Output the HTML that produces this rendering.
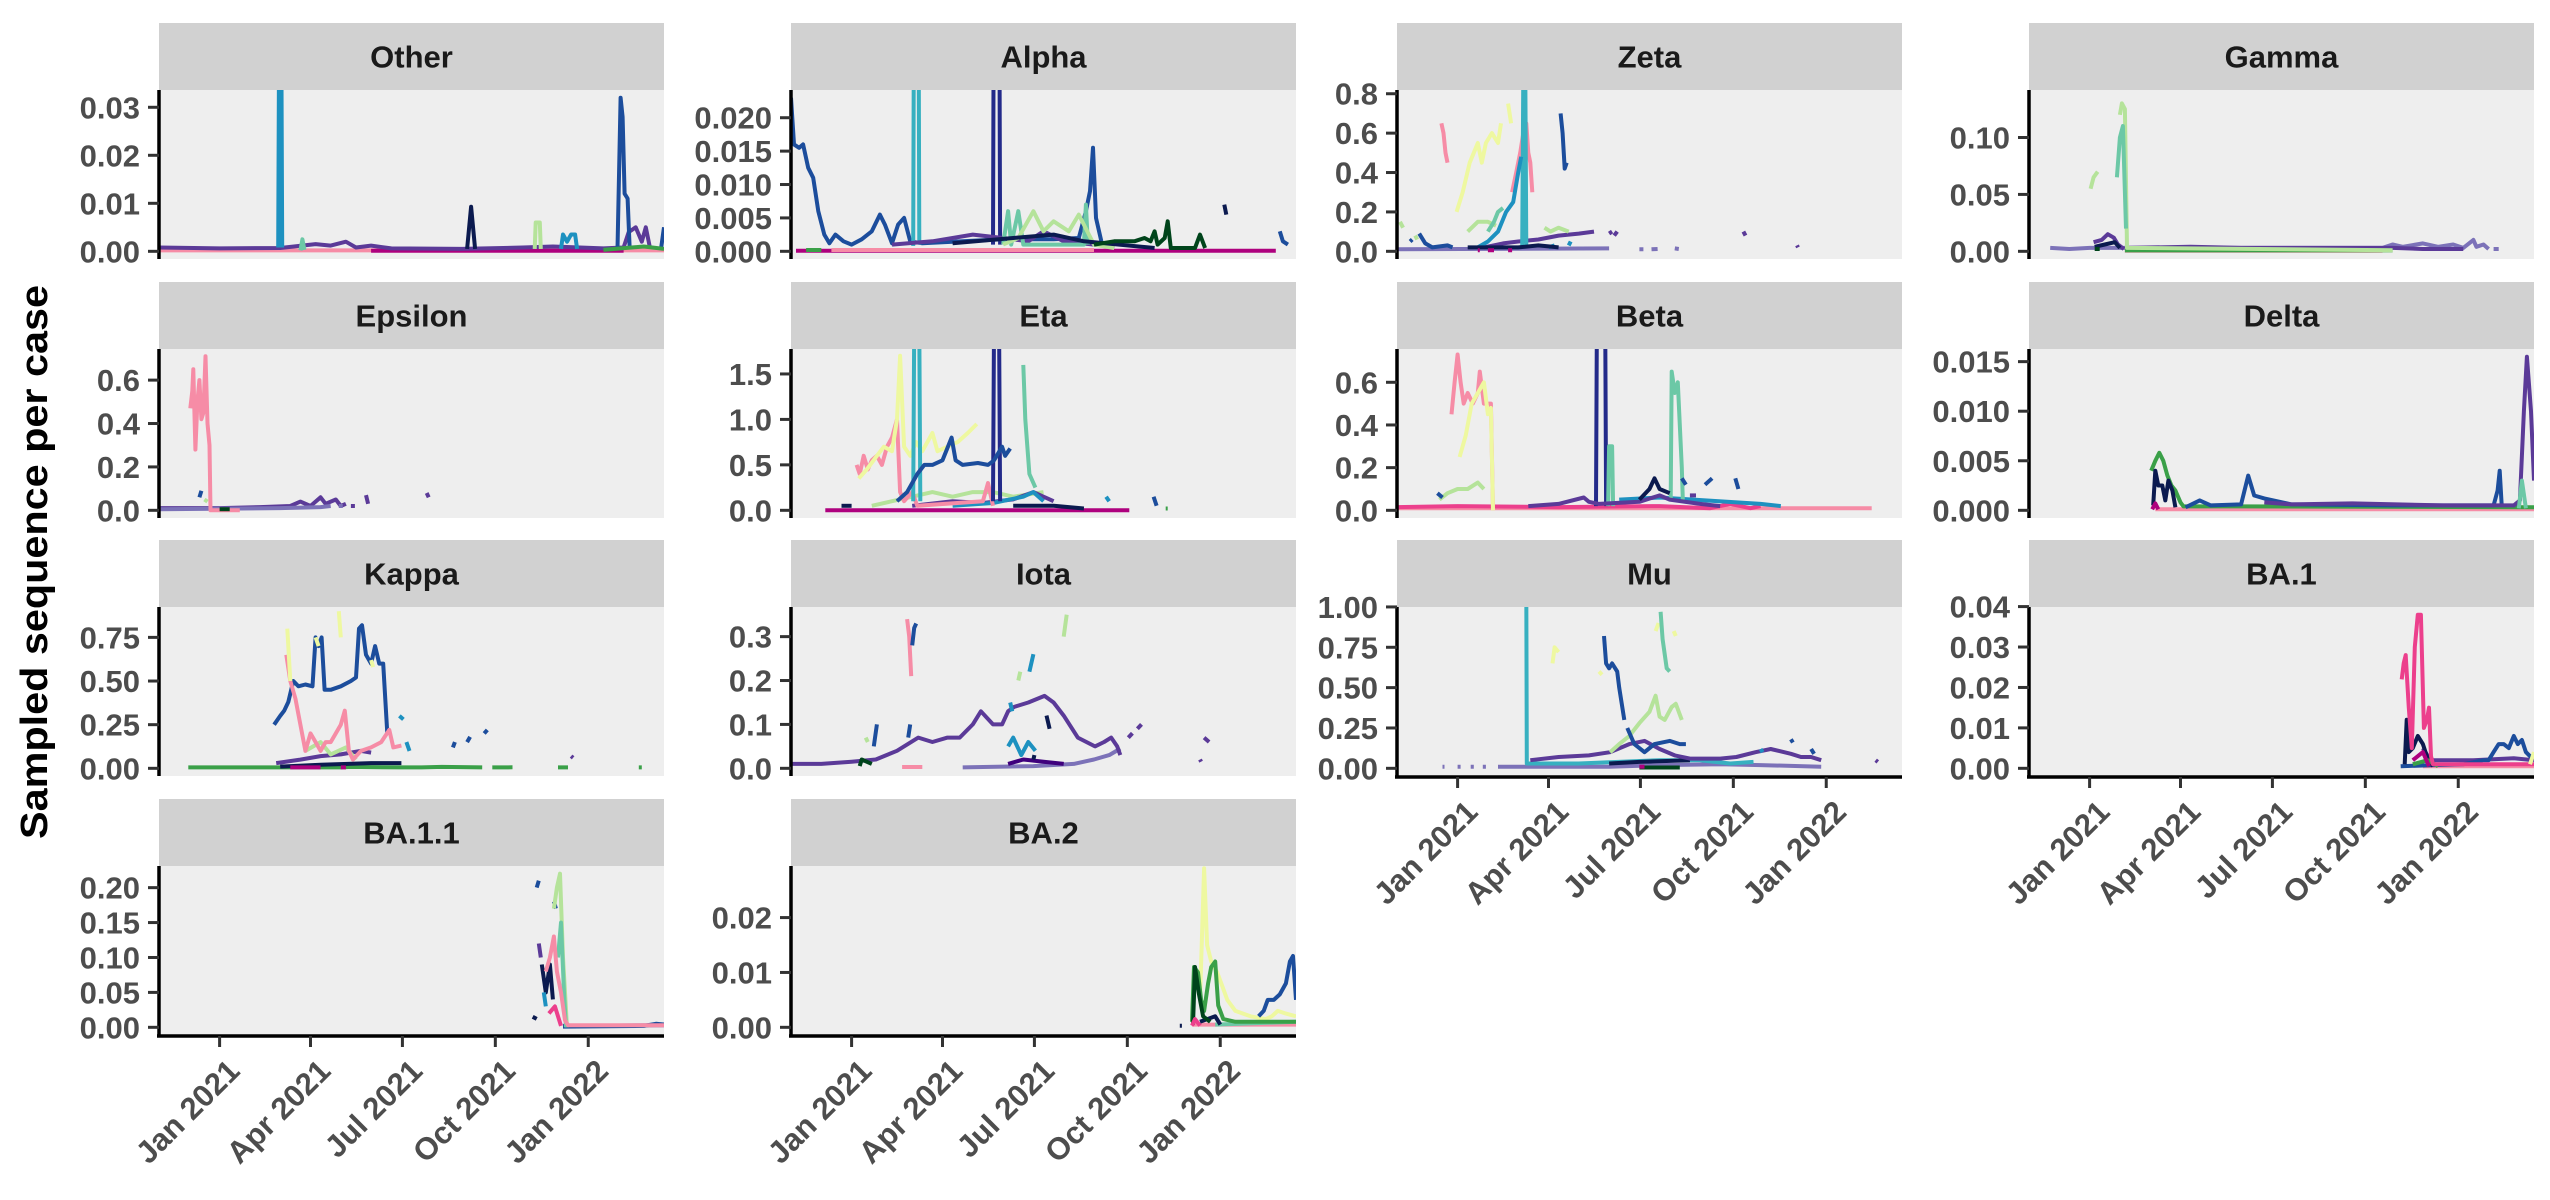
<!DOCTYPE html>
<html><head><meta charset="utf-8"><style>
html,body{margin:0;padding:0;background:#fff;}
svg{display:block;font-family:"Liberation Sans",sans-serif;}
</style></head><body>
<svg id="chart" width="2550" height="1200" viewBox="0 0 2550 1200" xmlns="http://www.w3.org/2000/svg">
<rect x="0" y="0" width="2550" height="1200" fill="#fff"/>
<text transform="translate(47,562) rotate(-90)" text-anchor="middle" font-size="38" font-weight="bold" fill="#000" textLength="554" lengthAdjust="spacingAndGlyphs">Sampled sequence per case</text>
</svg>
<script>
const facets = ['Other','Alpha','Zeta','Gamma','Epsilon','Eta','Beta','Delta','Kappa','Iota','Mu','BA.1','BA.1.1','BA.2'];
const yMax = [0.032,0.023,0.78,0.135,0.708,1.69,0.72,0.0155,0.88,0.35,0.952,0.038,0.22,0.028];
const yTicks = [[0,0.01,0.02,0.03],[0,0.005,0.01,0.015,0.02],[0,0.2,0.4,0.6,0.8],[0,0.05,0.1],[0,0.2,0.4,0.6],[0,0.5,1,1.5],[0,0.2,0.4,0.6],[0,0.005,0.01,0.015],[0,0.25,0.5,0.75],[0,0.1,0.2,0.3],[0,0.25,0.5,0.75,1],[0,0.01,0.02,0.03,0.04],[0,0.05,0.1,0.15,0.2],[0,0.01,0.02]];
const yTickLabels = [['0.00','0.01','0.02','0.03'],['0.000','0.005','0.010','0.015','0.020'],['0.0','0.2','0.4','0.6','0.8'],['0.00','0.05','0.10'],['0.0','0.2','0.4','0.6'],['0.0','0.5','1.0','1.5'],['0.0','0.2','0.4','0.6'],['0.000','0.005','0.010','0.015'],['0.00','0.25','0.50','0.75'],['0.0','0.1','0.2','0.3'],['0.00','0.25','0.50','0.75','1.00'],['0.00','0.01','0.02','0.03','0.04'],['0.00','0.05','0.10','0.15','0.20'],['0.00','0.01','0.02']];
// days since 2021-01-01
const xDomain = [-60, 440];
const xTickDays = [0, 90, 181, 273, 365];
const xTickLabels = ['Jan 2021','Apr 2021','Jul 2021','Oct 2021','Jan 2022'];
const palette = {pink:'#F68CA6',hotpink:'#EC3F8C',magenta:'#AE017E',dpurple:'#3F007D',purple:'#5B3A98',lavender:'#7C72B8',navy:'#0B1A4F',dblue:'#232A8A',blue:'#1C4D9C',teal:'#1D91C0',cyan:'#37B0C0',aqua:'#6CC8A6',lgreen:'#B5E39A',yellow:'#EEF8A0',green:'#3AA048',dgreen:'#00441B'};

const sOther = [
['pink',[[-60,0.0002],[440,0.0002]]],
['magenta',[[150,0.0001],[400,0.0001]]],
['purple',[[-60,0.0008],[0,0.0006],[60,0.0007],[95,0.0015],[110,0.0012],[125,0.002],[135,0.0008],[150,0.0012],[170,0.0006],[240,0.0005],[300,0.0008],[330,0.001],[380,0.0006],[400,0.0008],[405,0.004],[412,0.005],[418,0.002],[422,0.005],[426,0.0008]]],
['teal',[[58,0.0008],[59,0.05],[61,0.05],[62,0.0008]]],
['navy',[[245,0.0005],[249,0.0093],[253,0.0005]]],
['lgreen',[[312,0.0005],[313,0.006],[317,0.006],[318,0.0005]]],
['teal',[[338,0.0005],[340,0.0035],[344,0.002],[348,0.0035],[352,0.0035],[354,0.0005]]],
['blue',[[394,0.0005],[397,0.032],[399,0.028],[401,0.012],[404,0.011],[406,0.0005]]],
['blue',[[437,0.0005],[440,0.005]]],
['aqua',[[80,0.0002],[82,0.0025],[84,0.0003]]],
['green',[[380,0.0003],[420,0.001],[440,0.0005]]]
];
const sAlpha = [
['magenta',[[-55,0.0001],[420,0.0001]]],
['pink',[[-20,0.0002],[240,0.0002]]],
['blue',[[-60,0.023],[-57,0.016],[-52,0.0155],[-48,0.016],[-43,0.0125],[-38,0.011],[-33,0.006],[-27,0.0025],[-22,0.0012],[-16,0.0025],[-8,0.0015],[0,0.001],[10,0.0018],[20,0.003],[28,0.0055],[33,0.004],[40,0.0012],[46,0.004],[52,0.005],[58,0.0015],[70,0.0012],[110,0.0015],[150,0.0018],[200,0.0018],[225,0.002],[232,0.006],[236,0.009],[239,0.0155],[242,0.005],[248,0.001],[260,0.0005]]],
['cyan',[[61,0.0008],[62,0.05],[66,0.05],[67,0.001]]],
['dblue',[[140,0.001],[141,0.05],[146,0.05],[147,0.001]]],
['purple',[[40,0.001],[80,0.0015],[100,0.002],[120,0.0025],[150,0.002],[175,0.0015],[190,0.003],[210,0.0015],[240,0.001]]],
['aqua',[[150,0.001],[155,0.006],[158,0.001],[165,0.006],[170,0.001],[230,0.001],[232,0.007],[234,0.001]]],
['lgreen',[[150,0.001],[165,0.002],[180,0.006],[190,0.003],[200,0.0045],[215,0.003],[225,0.0055],[240,0.001],[260,0.0005]]],
['navy',[[100,0.0012],[160,0.002],[200,0.0025],[230,0.0015],[300,0.0005]]],
['dgreen',[[240,0.001],[260,0.0015],[280,0.0015],[290,0.002],[296,0.0015],[300,0.003],[303,0.001],[310,0.002],[313,0.0045],[316,0.0005],[340,0.0005],[345,0.0025],[350,0.0005]]],
['navy',[[369,0.007],[371,0.0055]]],
['blue',[[424,0.003],[427,0.0015],[432,0.001]]],
['green',[[-45,0.0002],[-30,0.0002]]]
];
const sZeta = [
['lavender',[[-60,0.01],[150,0.015],[151,null],[180,0.01],[184,0.01],[185,null],[192,0.01],[198,0.012],[199,null],[215,0.015],[219,0.012]]],
['purple',[[26,0.02],[45,0.04],[60,0.05],[80,0.06],[100,0.08],[120,0.09],[135,0.1],[136,null],[150,0.09],[153,0.1],[154,null],[155,0.08],[158,0.1]]],
['pink',[[-16,0.65],[-14,0.6],[-12,0.5],[-10,0.45],[-9,null],[54,0.3],[58,0.4],[62,0.5],[65,0.6],[68,0.65],[70,0.5],[72,0.45],[74,0.3]]],
['yellow',[[-1,0.2],[5,0.3],[12,0.45],[16,0.5],[20,0.55],[24,0.45],[28,0.55],[34,0.6],[40,0.55],[43,0.65],[44,null],[50,0.75],[53,0.65]]],
['cyan',[[64,0.02],[65,0.9],[67,0.9],[68,0.02]]],
['blue',[[102,0.7],[104,0.6],[106,0.42],[108,0.45]]],
['blue',[[-47,0.05],[-45,0.06],[-44,null],[-38,0.09],[-32,0.04],[-25,0.02],[-10,0.03],[-5,0.02]]],
['lgreen',[[-57,0.15],[-54,0.12],[-53,null],[-42,0.08],[-40,0.06],[-39,null],[10,0.1],[20,0.15],[30,0.15],[38,0.13],[40,null],[86,0.12],[92,0.1],[100,0.12],[110,0.1]]],
['aqua',[[30,0.1],[36,0.15],[40,0.2],[45,0.22]]],
['teal',[[20,0.02],[30,0.05],[40,0.1],[48,0.2],[55,0.25],[60,0.4],[63,0.48],[64,null],[90,0.02],[96,0.03],[97,null],[110,0.03],[112,0.05]]],
['navy',[[10,0.02],[60,0.02],[80,0.03],[100,0.02]]],
['purple',[[283,0.1],[285,0.08],[286,null],[336,0.03],[337,0.02]]],
['magenta',[[20,0.005],[22,0.005],[23,null],[30,0.005],[36,0.005],[37,null],[50,0.005],[54,0.005]]]
];
const sGamma = [
['lavender',[[-39,0.003],[-20,0.002],[0,0.003],[20,0.003],[40,0.003],[290,0.003],[300,0.006],[310,0.004],[330,0.007],[345,0.004],[360,0.006],[370,0.003],[380,0.01],[383,0.004],[390,0.006],[395,0.002],[399,null],[400,0.002],[405,0.002]]],
['purple',[[35,0.003],[100,0.004],[150,0.003],[250,0.003],[300,0.003],[330,0.002],[370,0.002]]],
['pink',[[35,0.0005],[290,0.0005]]],
['green',[[35,0.0008],[300,0.0008]]],
['lgreen',[[1,0.055],[4,0.065],[8,0.07],[9,null],[30,0.12],[32,0.13],[35,0.125],[37,0.003],[300,0.001]]],
['aqua',[[27,0.065],[30,0.1],[33,0.11],[36,0.02]]],
['purple',[[4,0.008],[12,0.01],[18,0.015],[24,0.012],[28,0.006],[34,0.002]]],
['navy',[[5,0.004],[15,0.006],[25,0.008],[30,0.003]]],
['dgreen',[[5,0.002],[10,0.002]]]
];
const sEpsilon = [
['purple',[[-60,0.01],[0,0.01],[40,0.015],[70,0.02],[80,0.04],[90,0.02],[100,0.06],[105,0.03],[115,0.05],[120,0.02],[125,0.03],[126,null],[130,0.02],[134,0.02],[135,null],[145,0.07],[147,0.03]]],
['lavender',[[-60,0.005],[60,0.01],[100,0.015],[110,0.02],[111,null],[118,0.02],[122,0.02]]],
['pink',[[-29,0.47],[-27,0.55],[-26,0.65],[-24,0.28],[-22,0.5],[-20,0.6],[-18,0.42],[-16,0.45],[-14,0.71],[-12,0.4],[-10,0.3],[-9,0.0],[20,0.0]]],
['blue',[[-20,0.06],[-18,0.09]]],
['lgreen',[[-15,0.05],[-12,0.04]]],
['purple',[[205,0.08],[207,0.06]]],
['dgreen',[[0,0.005],[10,0.005]]]
];
const sEta = [
['magenta',[[-26,0.0],[275,0.0]]],
['lgreen',[[20,0.05],[40,0.1],[60,0.15],[80,0.2],[100,0.15],[120,0.2],[140,0.2],[160,0.15],[190,0.2]]],
['purple',[[60,0.05],[100,0.1],[130,0.08],[160,0.12],[180,0.2],[190,0.15],[200,0.1]]],
['teal',[[100,0.05],[140,0.08],[170,0.15],[180,0.2],[190,0.1]]],
['navy',[[160,0.05],[200,0.05],[230,0.02]]],
['pink',[[5,0.5],[8,0.4],[12,0.6],[16,0.45],[20,0.55],[25,0.6],[30,0.5],[35,0.7],[40,0.8],[45,1.0],[48,0.2],[52,0.1],[60,0.2],[65,0.05],[130,0.1],[135,0.3],[140,0.05]]],
['yellow',[[7,0.35],[15,0.45],[25,0.6],[32,0.7],[40,0.65],[45,1.0],[48,1.7],[52,0.7],[58,0.6],[64,0.75],[70,0.65],[80,0.85],[85,0.65],[95,0.7],[105,0.75],[115,0.85],[124,0.95]]],
['cyan',[[61,0.1],[62,2.0],[67,2.0],[68,0.1]]],
['dblue',[[140,0.1],[141,2.0],[146,2.0],[147,0.1]]],
['blue',[[45,0.1],[55,0.2],[65,0.4],[72,0.5],[80,0.5],[90,0.55],[99,0.8],[103,0.55],[110,0.5],[125,0.52],[135,0.5],[141,0.55],[149,0.7],[152,0.6],[157,0.68]]],
['aqua',[[170,1.6],[172,1.0],[176,0.4],[182,0.25]]],
['teal',[[252,0.15],[255,0.1]]],
['blue',[[299,0.15],[302,0.05]]],
['green',[[311,0.02],[313,0.02]]],
['navy',[[-10,0.05],[0,0.05]]]
];
const sBeta = [
['pink',[[-60,0.01],[410,0.01]]],
['hotpink',[[-60,0.015],[0,0.02],[100,0.015],[200,0.02],[250,0.01],[270,0.03],[290,0.01],[300,0.02]]],
['teal',[[160,0.05],[200,0.06],[300,0.03],[320,0.02]]],
['pink',[[-6,0.45],[-3,0.6],[0,0.73],[3,0.6],[6,0.5],[10,0.55],[15,0.5],[20,0.55],[22,0.65],[26,0.5],[30,0.5],[33,0.5],[35,0.0]]],
['yellow',[[2,0.25],[8,0.35],[14,0.5],[20,0.55],[26,0.6],[30,0.45],[33,0.48],[35,0.0]]],
['lgreen',[[-18,0.05],[-10,0.08],[0,0.1],[10,0.1],[20,0.13],[26,0.1]]],
['dblue',[[137,0.02],[138,1.0],[146,1.0],[147,0.02]]],
['aqua',[[149,0.02],[150,0.3],[153,0.3],[154,0.02]]],
['aqua',[[211,0.05],[212,0.65],[215,0.55],[218,0.6],[219,0.5],[220,0.4],[222,0.2],[223,0.05]]],
['purple',[[70,0.02],[100,0.03],[125,0.06],[130,0.04],[140,0.03],[180,0.04],[200,0.07],[210,0.05],[240,0.03],[260,0.02]]],
['navy',[[180,0.05],[190,0.1],[195,0.15],[200,0.1],[210,0.08]]],
['blue',[[222,0.15],[226,0.12],[227,null],[245,0.12],[252,0.15],[253,null],[275,0.15],[278,0.1]]],
['purple',[[230,0.07],[236,0.07]]],
['blue',[[-20,0.08],[-15,0.06]]]
];
const sDelta = [
['pink',[[65,0.0001],[440,0.0001]]],
['green',[[61,0.004],[65,0.005],[69,0.0058],[73,0.005],[77,0.0035],[81,0.0025],[85,0.002],[90,0.0008],[93,0.0004],[150,0.0004],[440,0.0003]]],
['navy',[[63,0.0005],[65,0.004],[68,0.0025],[72,0.0025],[75,0.001],[78,0.003],[82,0.002],[85,0.0003]]],
['blue',[[95,0.0003],[109,0.001],[120,0.0005],[150,0.0006],[157,0.0035],[163,0.0015],[173,0.0012],[200,0.0006],[300,0.0005],[400,0.0005],[404,0.002],[406,0.004],[408,0.0005]]],
['purple',[[173,0.0008],[200,0.0006],[260,0.0007],[350,0.0005],[420,0.0005],[426,0.001],[430,0.01],[433,0.0155],[437,0.01],[440,0.003]]],
['aqua',[[425,0.0002],[428,0.003],[432,0.0002]]],
['magenta',[[62,0.0001],[65,0.0007],[68,0.0001]]]
];
const sKappa = [
['green',[[-31,0.005],[120,0.005],[130,0.008],[180,0.005],[200,0.005],[220,0.008],[260,0.005],[262,null],[270,0.005],[290,0.006],[291,null],[335,0.005],[345,0.005],[346,null],[415,0.005],[418,0.005]]],
['navy',[[60,0.01],[100,0.02],[150,0.03],[180,0.03]]],
['magenta',[[70,0.005],[100,0.005],[101,null],[120,0.005],[125,0.005]]],
['purple',[[56,0.03],[80,0.05],[100,0.07],[120,0.08],[140,0.1],[150,0.09]]],
['lgreen',[[85,0.1],[100,0.15],[110,0.08],[125,0.12],[135,0.05]]],
['blue',[[54,0.25],[60,0.3],[64,0.33],[68,0.38],[73,0.5],[78,0.47],[85,0.48],[92,0.47],[95,0.75],[98,0.7],[101,0.75],[104,0.45],[110,0.45],[120,0.47],[130,0.5],[135,0.52],[138,0.8],[141,0.82],[145,0.65],[150,0.6],[154,0.7],[158,0.6],[162,0.6],[166,0.2]]],
['pink',[[66,0.65],[70,0.5],[75,0.4],[80,0.25],[85,0.1],[90,0.2],[95,0.15],[100,0.1],[105,0.15],[110,0.15],[115,0.2],[120,0.25],[124,0.33],[128,0.1],[132,0.05],[140,0.1],[150,0.12],[160,0.15],[168,0.22],[172,0.12],[180,0.13]]],
['yellow',[[67,0.8],[70,0.5],[71,null],[95,0.75],[98,0.7],[99,null],[118,0.9],[120,0.75],[121,null],[150,0.62],[152,0.58]]],
['teal',[[178,0.3],[182,0.28],[183,null],[185,0.15],[188,0.1]]],
['blue',[[231,0.12],[233,0.15],[234,null],[245,0.15],[248,0.18],[249,null],[262,0.2],[265,0.22]]],
['purple',[[348,0.07],[350,0.06]]]
];
const sIota = [
['lavender',[[110,0.002],[180,0.005],[220,0.01],[240,0.02],[255,0.03],[266,0.045]]],
['dpurple',[[155,0.01],[170,0.02],[190,0.015],[210,0.01]]],
['pink',[[50,0.003],[70,0.003]]],
['purple',[[-59,0.01],[-30,0.01],[0,0.015],[24,0.02],[45,0.04],[66,0.07],[80,0.06],[95,0.07],[107,0.07],[120,0.1],[128,0.13],[140,0.1],[149,0.1],[155,0.13],[161,0.14],[175,0.15],[191,0.165],[200,0.15],[210,0.12],[224,0.07],[241,0.05],[250,0.06],[257,0.07],[263,0.05],[266,0.03],[267,null],[274,0.07],[278,0.08],[279,null],[283,0.09],[287,0.1]]],
['pink',[[55,0.34],[57,0.3],[59,0.21]]],
['blue',[[60,0.28],[62,0.32],[64,0.33]]],
['blue',[[22,0.05],[25,0.1],[26,null],[56,0.07],[58,0.1]]],
['lgreen',[[14,0.07],[16,0.06],[17,null],[210,0.3],[213,0.35],[214,null],[165,0.2],[167,0.22]]],
['teal',[[157,0.15],[159,0.13],[160,null],[176,0.22],[180,0.26],[181,null],[155,0.05],[160,0.07],[168,0.03],[175,0.06],[182,0.04]]],
['dgreen',[[8,0.005],[10,0.02],[20,0.01]]],
['navy',[[193,0.12],[196,0.09],[197,null],[180,0.02],[181,0.03]]],
['purple',[[349,0.07],[354,0.06],[355,null],[345,0.02],[346,0.015]]]
];
const sMu = [
['lavender',[[-15,0.01],[-13,0.01],[-12,null],[0,0.01],[3,0.01],[4,null],[13,0.01],[16,0.01],[17,null],[25,0.01],[28,0.01],[29,null],[40,0.01],[150,0.01],[200,0.02],[260,0.025],[300,0.02],[360,0.01]]],
['cyan',[[68,1.1],[68.5,0.03],[120,0.03],[200,0.05],[240,0.05],[270,0.03],[293,0.04]]],
['navy',[[150,0.03],[180,0.04],[230,0.05]]],
['dgreen',[[180,0.005],[220,0.005]]],
['magenta',[[180,0.01],[185,0.01]]],
['purple',[[72,0.05],[100,0.07],[130,0.08],[151,0.1],[170,0.15],[185,0.17],[200,0.12],[215,0.08],[230,0.06],[260,0.06],[276,0.07],[295,0.1],[310,0.12],[330,0.09],[340,0.07],[350,0.07],[360,0.05]]],
['yellow',[[94,0.65],[96,0.75],[100,0.72],[101,null],[140,0.6],[143,0.58],[144,null],[196,0.85],[199,0.9],[200,null],[214,0.85],[216,0.82]]],
['blue',[[145,0.82],[147,0.65],[150,0.62],[153,0.65],[158,0.6],[160,0.5],[165,0.3]]],
['aqua',[[201,0.97],[203,0.8],[207,0.62],[210,0.6]]],
['lgreen',[[151,0.1],[160,0.15],[170,0.2],[180,0.28],[190,0.35],[196,0.45],[200,0.32],[205,0.3],[212,0.38],[216,0.4],[222,0.3]]],
['blue',[[168,0.25],[175,0.15],[185,0.1],[195,0.15],[210,0.17],[220,0.15],[226,0.15]]],
['blue',[[330,0.18],[332,0.16],[333,null],[350,0.12],[353,0.09]]],
['teal',[[300,0.12],[302,0.1]]],
['purple',[[414,0.05],[416,0.04]]]
];
const sBA1 = [
['pink',[[330,0.0005],[440,0.0005]]],
['purple',[[330,0.005],[335,0.003],[340,0.002],[380,0.002],[420,0.0025],[440,0.002]]],
['blue',[[308,0.0005],[340,0.0008],[370,0.001],[390,0.002],[395,0.002],[400,0.004],[405,0.006],[410,0.006],[415,0.005],[420,0.008],[424,0.006],[428,0.007],[432,0.004],[436,0.003],[440,0.003]]],
['navy',[[312,0.001],[314,0.012],[316,0.004],[320,0.005],[325,0.008],[330,0.006],[334,0.003],[340,0.0005]]],
['green',[[320,0.001],[335,0.002],[345,0.0005]]],
['hotpink',[[309,0.022],[311,0.026],[313,0.028],[316,0.015],[319,0.005],[322,0.03],[325,0.038],[328,0.038],[331,0.01],[334,0.012],[336,0.015],[338,0.003],[340,0.001],[440,0.001]]],
['magenta',[[320,0.002],[330,0.004],[336,0.0005]]],
['yellow',[[436,0.001],[440,0.004]]]
];
const sBA11 = [
['blue',[[314,0.2],[316,0.21],[317,null],[331,0.18],[333,0.17]]],
['navy',[[310,0.015],[314,0.012],[315,null],[319,0.09],[323,0.05],[327,0.09],[330,0.04]]],
['purple',[[316,0.12],[318,0.1],[319,null],[340,0.002],[440,0.003]]],
['teal',[[321,0.05],[323,0.03]]],
['blue',[[340,0.001],[420,0.002],[432,0.005],[440,0.004]]],
['lgreen',[[331,0.17],[334,0.2],[337,0.22],[340,0.1],[344,0.0]]],
['aqua',[[335,0.1],[338,0.15],[341,0.05],[343,0.0]]],
['hotpink',[[326,0.02],[332,0.03],[338,0.002]]],
['pink',[[323,0.08],[327,0.1],[331,0.13],[334,0.08],[338,0.05],[342,0.01],[345,0.003],[440,0.003]]]
];
const sBA2 = [
['pink',[[337,0.0005],[440,0.0005]]],
['aqua',[[360,0.0005],[440,0.001]]],
['navy',[[325,0.0003],[327,0.0003],[328,null],[345,0.001],[360,0.002],[365,0.0005]]],
['yellow',[[345,0.005],[349,0.029],[352,0.015],[356,0.012],[362,0.01],[366,0.008],[372,0.005],[380,0.003],[395,0.002],[410,0.0015],[416,0.002],[422,0.003],[430,0.0025],[440,0.002]]],
['green',[[337,0.001],[339,0.011],[343,0.01],[346,0.005],[349,0.003],[353,0.008],[356,0.011],[360,0.012],[363,0.004],[368,0.0015],[380,0.001],[440,0.001]]],
['dgreen',[[338,0.0005],[340,0.011],[344,0.006],[348,0.002],[355,0.001]]],
['blue',[[403,0.002],[408,0.003],[412,0.005],[418,0.005],[424,0.006],[430,0.008],[434,0.012],[437,0.013],[440,0.005]]],
['hotpink',[[337,0.0003],[340,0.0015],[345,0.0003]]]
];
const seriesByFacet = [sOther,sAlpha,sZeta,sGamma,sEpsilon,sEta,sBeta,sDelta,sKappa,sIota,sMu,sBA1,sBA11,sBA2];

const NS = 'http://www.w3.org/2000/svg';
const svg = document.getElementById('chart');
const colLeft = [159, 791, 1397, 2029];
const rowTop = [23, 282, 540, 799];
const PW = 505, SH = 67, PH = 169;
const bottomAxisFacets = [10, 11, 12, 13];
function mk(tag, attrs, parent) {
  const el = document.createElementNS(NS, tag);
  for (const k in attrs) el.setAttribute(k, attrs[k]);
  (parent || svg).appendChild(el);
  return el;
}
const defs = mk('defs', {});
facets.forEach((name, i) => {
  const row = i < 12 ? Math.floor(i / 4) : 3;
  const col = i < 12 ? i % 4 : i - 12;
  const L = colLeft[col], T = rowTop[row] + SH, B = T + PH;
  const M = yMax[i];
  const lo = -0.05 * M, hi = 1.05 * M;
  const xs = d => L + (d - xDomain[0]) / (xDomain[1] - xDomain[0]) * PW;
  const ys = v => B - (v - lo) / (hi - lo) * PH;
  const g = mk('g', {});
  
  
  const strip = mk('rect', {x: L, y: rowTop[row], width: PW, height: SH, fill: '#D1D1D1'}, g);
  
  
  const st = mk('text', {x: L + PW / 2, y: rowTop[row] + SH / 2 + 11, 'text-anchor': 'middle', 'font-size': 31, 'font-weight': 'bold', fill: '#1A1A1A'}, g);
  st.textContent = name;
  
  
  const bg = mk('rect', {x: L, y: T, width: PW, height: PH, fill: '#EEEEEE'}, g);
  
  
  const cp = mk('clipPath', {id: 'clip' + i}, defs);
  mk('rect', {x: L, y: T, width: PW, height: PH}, cp);
  const lines = mk('g', {'clip-path': 'url(#clip' + i + ')'}, g);
  seriesByFacet[i].forEach(s => {
    let d = '', pen = false;
    s[1].forEach(p => {
      if (p[1] === null) { pen = false; return; }
      d += (pen ? 'L' : 'M') + xs(p[0]).toFixed(1) + ',' + ys(p[1]).toFixed(1);
      pen = true;
    });
    const path = mk('path', {d: d, fill: 'none', stroke: palette[s[0]], 'stroke-width': 4, 'stroke-linejoin': 'round'}, lines);
    
    
  });
  const ya = mk('line', {x1: L, y1: T, x2: L, y2: B, stroke: '#000', 'stroke-width': 3.5}, g);
  
  
  yTicks[i].forEach((t, k) => {
    const yy = ys(t);
    const tk = mk('line', {x1: L - 11, y1: yy, x2: L, y2: yy, stroke: '#333', 'stroke-width': 3}, g);
    
    
    const tl = mk('text', {x: L - 19, y: yy + 11, 'text-anchor': 'end', 'font-size': 31, 'font-weight': 'bold', fill: '#4D4D4D'}, g);
    tl.textContent = yTickLabels[i][k];
    
    
  });
  if (bottomAxisFacets.includes(i)) {
    const xa = mk('line', {x1: L - 2, y1: B + 1, x2: L + PW, y2: B + 1, stroke: '#000', 'stroke-width': 3.5}, g);
    
    
    xTickDays.forEach((td, k) => {
      const xx = xs(td);
      const tk = mk('line', {x1: xx, y1: B + 1, x2: xx, y2: B + 12, stroke: '#333', 'stroke-width': 3}, g);
      
      
      const tl = mk('text', {transform: 'translate(' + (xx + 6) + ',' + (B + 22) + ') rotate(-45)', 'text-anchor': 'end', dy: '0.72em', 'font-size': 31, 'font-weight': 'bold', fill: '#4D4D4D'}, g);
      tl.textContent = xTickLabels[k];
      
      
    });
  }
});
</script>
</body></html>
